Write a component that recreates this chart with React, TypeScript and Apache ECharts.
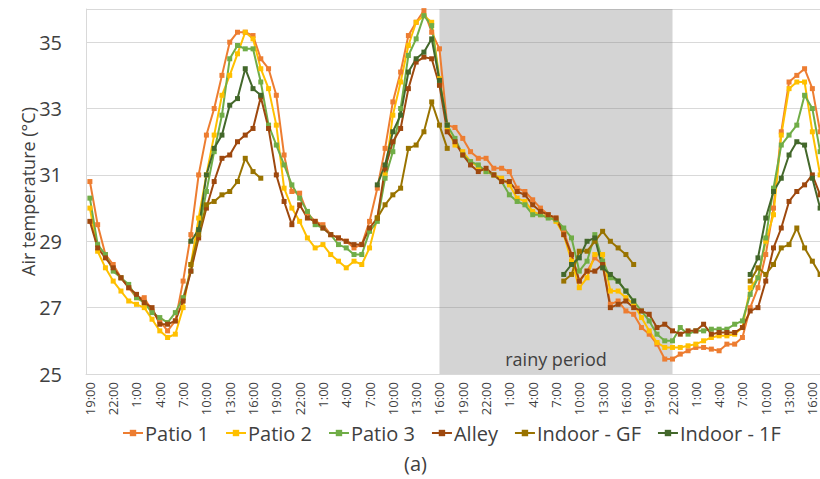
import React, { useEffect, useRef } from "react";
import * as echarts from "echarts";

const _ = null;

const timeLabels = [
  "19:00","20:00","21:00","22:00","23:00","0:00","1:00","2:00","3:00","4:00","5:00","6:00","7:00","8:00","9:00","10:00","11:00","12:00","13:00","14:00","15:00","16:00","17:00","18:00",
  "19:00","20:00","21:00","22:00","23:00","0:00","1:00","2:00","3:00","4:00","5:00","6:00","7:00","8:00","9:00","10:00","11:00","12:00","13:00","14:00","15:00","16:00","17:00","18:00",
  "19:00","20:00","21:00","22:00","23:00","0:00","1:00","2:00","3:00","4:00","5:00","6:00","7:00","8:00","9:00","10:00","11:00","12:00","13:00","14:00","15:00","16:00","17:00","18:00",
  "19:00","20:00","21:00","22:00","23:00","0:00","1:00","2:00","3:00","4:00","5:00","6:00","7:00","8:00","9:00","10:00","11:00","12:00","13:00","14:00","15:00","16:00","17:00",
];

const patio1 = [
  30.8, 29.5, 28.6, 28.3, 27.9, 27.6, 27.3, 27.3, 26.9, 26.6, 26.3, 26.6, 27.8, 29.2, 31.0, 32.2, 33.0, 34.0, 35.0, 35.3, 35.3, 35.2, 34.5, 34.2, 33.4, 31.6,
  30.5, 30.45, 29.85, 29.6, 29.5, 29.2, 29.1, 29.0, 28.8, 28.9, 29.6, 30.6, 31.8, 33.2, 34.1, 35.2, 35.6, 35.95, 35.3, 34.8,
  32.5, 32.43, 32.1, 31.7, 31.5, 31.5, 31.2, 31.2, 31.1, 30.6, 30.5, 30.25, 30.0, 29.8, 29.7, 29.3, 28.6, 27.8, 28.1, 28.5, 28.3, 27.1, 27.2, 26.9, 26.8, 26.4, 26.2, 25.9, 25.45, 25.45,
  25.6, 25.7, 25.8, 25.8, 25.75, 25.7, 25.9, 25.9, 26.1,
  27.0, 27.6, 28.6, 30.0, 32.3, 33.8, 34.0, 34.2, 33.6, 32.3,
];

const patio2 = [
  30.0, 28.7, 28.2, 27.8, 27.5, 27.2, 27.1, 27.0, 26.65, 26.3, 26.1, 26.2, 27.0, 28.3, 29.7, 31.0, 32.2, 33.4, 34.0, 34.65, 35.3, 35.1, 34.2, 33.6, 32.5, 30.6,
  30.0, 29.6, 29.1, 28.8, 28.9, 28.6, 28.4, 28.2, 28.4, 28.3, 28.8, 29.7, 31.0, 32.8, 33.8, 34.9, 35.6, 35.8, 35.6, 33.9,
  32.4, 31.9, 31.7, 31.4, 31.25, 31.1, 31.0, 30.9, 30.7, 30.3, 30.2, 29.9, 29.8, 29.75, 29.6, 29.2, 28.4, 27.6, 27.9, 28.6, 28.6, 27.5, 27.5, 27.3, 27.1, 26.7, 26.3, 25.95, 25.8, 25.8,
  25.8, 25.85, 25.9, 26.0, 26.1, 26.15, 26.15, 26.2, 26.4,
  27.6, 27.9, 29.0, 29.8, 32.2, 33.6, 33.8, 33.8, 32.3, 31.0,
];

const patio3 = [
  30.3, 28.9, 28.6, 28.1, 27.9, 27.7, 27.3, 27.15, 26.85, 26.7, 26.55, 26.85, 27.3, 28.1, 29.3, 30.5, 31.7, 32.8, 34.5, 34.9, 34.8, 34.8, 33.8, 32.5, 31.9, 31.3,
  30.7, 30.3, 29.9, 29.5, 29.4, 29.2, 28.9, 28.8, 28.6, 28.6, 29.3, 29.6, 30.9, 31.7, 33.0, 34.6, 35.1, 35.8, 35.5, 33.8,
  32.5, 32.1, 31.6, 31.4, 31.3, 31.1, 31.0, 30.8, 30.4, 30.2, 30.1, 29.8, 29.8, 29.7, 29.65, 29.4, 29.1, 28.1, 28.4, 29.2, 28.4, 27.9, 27.8, 27.5, 27.2, 26.9, 26.6, 26.2, 26.0, 26.0,
  26.4, 26.2, 26.3, 26.3, 26.35, 26.35, 26.35, 26.5, 26.6,
  27.4, 27.9, 29.1, 30.6, 31.9, 32.2, 32.5, 33.4, 33.0, 31.7,
];

const alley = [
  29.6, 28.8, 28.5, 28.2, 27.9, 27.6, 27.4, 27.15, 27.0, 26.5, 26.5, 26.6, 27.2, 28.1, 29.1, 30.0, 30.8, 31.5, 31.6, 32.0, 32.2, 32.4, 33.35, 32.4, 31.0, 30.2,
  29.5, 30.1, 29.7, 29.6, 29.4, 29.2, 29.1, 29.0, 28.9, 28.9, 29.4, 29.7, 31.2, 32.0, 32.4, 33.6, 34.4, 34.55, 34.5, 33.7,
  32.3, 32.0, 31.6, 31.3, 31.1, 31.2, 31.0, 30.8, 30.8, 30.5, 30.4, 30.1, 29.9, 29.8, 29.7, 29.2, 28.6, 27.8, 28.1, 28.1, 28.3, 27.0, 27.1, 27.2, 27.0, 26.9, 26.8, 26.4, 26.5, 26.3,
  26.2, 26.3, 26.3, 26.5, 26.2, 26.25, 26.25, 26.25, 26.4,
  26.9, 27.0, 27.8, 28.8, 29.4, 30.2, 30.5, 30.7, 31.0, 30.4,
];

const indoorGF = [
  _, _, _, _, _, _, _, _, _, _, _, _, _,
  28.3, 29.2, 30.1, 30.2, 30.4, 30.5, 30.8, 31.5, 31.1, 30.9,
  _, _, _, _, _, _, _, _, _, _, _, _, _, _,
  29.7, 30.1, 30.4, 30.6, 31.8, 31.9, 32.3, 33.2, 32.5, 31.8,
  _, _, _, _, _, _, _, _, _, _, _, _, _, _,
  27.8, 28.0, 28.7, 28.7, 29.0, 29.3, 29.0, 28.8, 28.6, 28.3,
  _, _, _, _, _, _, _, _, _, _, _, _, _, _,
  27.8, 28.2, 28.0, 28.3, 28.8, 28.9, 29.4, 28.8, 28.4, 28.0,
];

const indoor1F = [
  _, _, _, _, _, _, _, _, _, _, _, _, _,
  29.0, 29.35, 31.0, 31.8, 32.2, 33.1, 33.3, 34.2, 33.6, 33.4,
  _, _, _, _, _, _, _, _, _, _, _, _, _, _,
  30.7, 31.3, 32.3, 32.8, 34.1, 34.5, 34.7, 35.1, 33.85, 32.5,
  _, _, _, _, _, _, _, _, _, _, _, _, _, _,
  28.0, 28.3, 28.5, 29.0, 29.1, 28.2, 28.0, 27.8, 27.5, 27.2,
  _, _, _, _, _, _, _, _, _, _, _, _, _, _,
  28.0, 28.5, 29.7, 30.5, 30.9, 31.6, 32.0, 31.9, 30.9, 30.0,
];

const seriesNames = ["Patio 1", "Patio 2", "Patio 3", "Alley", "Indoor - GF", "Indoor - 1F"];
const seriesColors = ["#ED7D31", "#FFC000", "#70AD47", "#9E480E", "#997300", "#43682B"];
const seriesData = [patio1, patio2, patio3, alley, indoorGF, indoor1F];

const rainyStart = 45; // 16:00
const rainyEnd = 75; // 22:00
const rainyLabel = "rainy period";
const yTicks = { min: 25, max: 36, interval: 2 };

const FONT = "'Open Sans', 'Noto Sans', sans-serif";
const TEXT = "#404040";

export default function App() {
  const ref = useRef<HTMLDivElement>(null);
  useEffect(() => {
    document.body.style.margin = "0";
    if (!ref.current) return;
    const chart = echarts.init(ref.current, null, { renderer: "svg" });
    const lines = seriesNames.map((name, k) => ({
      name,
      type: "line",
      data: seriesData[k],
      z: 3,
      symbol: "rect",
      symbolSize: 5,
      showSymbol: true,
      connectNulls: false,
      clip: false,
      lineStyle: { width: 2, color: seriesColors[k] },
      itemStyle: { color: seriesColors[k] },
      emphasis: { disabled: true },
    }));
    chart.setOption({
      animation: false,
      textStyle: { fontFamily: FONT },
      grid: {
        left: 86,
        right: -4,
        top: 9,
        bottom: 105,
        containLabel: false,
        outerBoundsMode: "none",
      },
      legend: {
        data: seriesNames,
        left: 117,
        top: 418,
        itemWidth: 20,
        itemHeight: 8,
        itemGap: 16,
        textStyle: { fontSize: 20, color: TEXT, fontFamily: FONT, padding: [0, 0, 0, -3] },
      },
      graphic: [
        {
          type: "text",
          left: 404,
          top: 453,
          style: { text: "(a)", fontSize: 20, fill: TEXT, fontFamily: FONT },
        },
      ],
      xAxis: {
        type: "category",
        data: timeLabels,
        boundaryGap: true,
        axisLine: { show: true, lineStyle: { color: "#D9D9D9", width: 1 } },
        axisTick: { show: false },
        axisLabel: {
          interval: 2,
          rotate: 90,
          fontSize: 13,
          color: TEXT,
          fontFamily: FONT,
          margin: 8,
        },
        splitLine: { show: false },
      },
      yAxis: {
        type: "value",
        min: yTicks.min,
        max: yTicks.max,
        interval: yTicks.interval,
        name: "Air temperature (°C)",
        nameLocation: "middle",
        nameGap: 49,
        nameMoveOverlap: false,
        nameTextStyle: { fontSize: 18, color: TEXT, fontFamily: FONT },
        axisLine: { show: true, lineStyle: { color: "#D9D9D9", width: 1 } },
        axisTick: { show: false },
        axisLabel: {
          fontSize: 20,
          color: TEXT,
          fontFamily: FONT,
          margin: 24,
          formatter: (v: number) => (v === yTicks.max ? "" : String(v)),
        },
        splitLine: { show: true, lineStyle: { color: "#D9D9D9", width: 1 } },
      },
      series: [
        {
          name: "rainy",
          type: "line",
          data: [],
          z: 1,
          silent: true,
          markArea: {
            silent: true,
            itemStyle: { color: "rgba(120,120,120,0.32)" },
            label: {
              show: true,
              position: "insideBottom",
              distance: 6,
              fontSize: 18,
              color: TEXT,
              fontFamily: FONT,
            },
            data: [[{ xAxis: rainyStart, name: rainyLabel }, { xAxis: rainyEnd }]],
          },
        },
        ...lines,
      ],
    });
    return () => chart.dispose();
  }, []);
  return <div ref={ref} style={{ width: 820, height: 479 }} />;
}
